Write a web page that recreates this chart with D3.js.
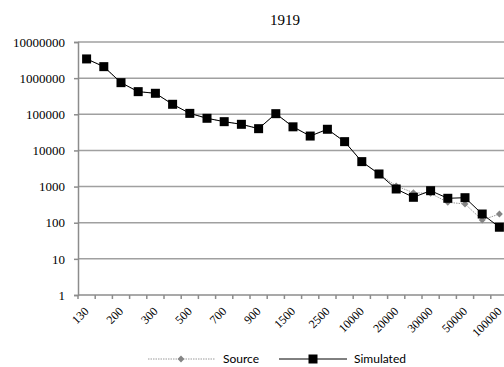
<!DOCTYPE html>
<html>
<head>
<meta charset="utf-8">
<script src="https://cdn.jsdelivr.net/npm/d3@7"></script>
<style>
  html, body { margin: 0; padding: 0; background: #fff; }
  svg { display: block; }
</style>
</head>
<body>
<svg id="chart" width="504" height="367"></svg>
<script>
// Size classes (category axis) and counts per class, log scale
const categories = ["130","150","200","250","300","400","500","600","700","800","900","1000",
  "1500","2000","2500","5000","10000","15000","20000","25000","30000","40000","50000","75000","100000"];
const sourceValues = [3400000, 2080000, 750000, 423000, 381000, 189000, 106000, 77500, 62500, 52800,
  40000, 104000, 45000, 25000, 38500, 17500, 4900, 2230, 1040, 677, 650, 367, 330, 119, 174];
const simulatedValues = [3400000, 2080000, 750000, 423000, 381000, 189000, 106000, 77500, 62500, 52800,
  40000, 104000, 45000, 25000, 38500, 17500, 4900, 2230, 857, 505, 769, 474, 492, 174, 75];
const yTickValues = [1, 10, 100, 1000, 10000, 100000, 1000000, 10000000];
const titleText = "1919";
const seriesNames = ["Source", "Simulated"];

const serif = "'Liberation Serif', 'Times New Roman', serif";
const svg = d3.select("#chart");
const plotLeft = 78, plotTop = 42, plotBottom = 295, step = 17.2;

const x = d3.scaleBand().domain(categories).range([plotLeft, plotLeft + step * categories.length]).padding(0);
const y = d3.scaleLog().domain([1, 1e7]).range([plotBottom, plotTop]);
const cx = d => x(d) + x.bandwidth() / 2;

// title
svg.append("text")
  .attr("x", 285).attr("y", 25)
  .attr("text-anchor", "middle")
  .attr("font-family", serif)
  .attr("font-size", 15)
  .text(titleText);

// horizontal gridlines
svg.append("g").selectAll("line")
  .data(yTickValues.filter(v => v > 1))
  .join("line")
  .attr("x1", plotLeft).attr("x2", 504)
  .attr("y1", d => y(d)).attr("y2", d => y(d))
  .attr("stroke", "#a0a0a0").attr("stroke-width", 1.5);

// y axis
const yAxis = d3.axisLeft(y).tickValues(yTickValues).tickFormat(d3.format("d")).tickSize(4).tickPadding(9);
const gy = svg.append("g").attr("transform", `translate(${plotLeft},0)`).call(yAxis)
  .attr("font-family", serif).attr("font-size", 13);
gy.select(".domain").attr("stroke", "#8c8c8c").attr("stroke-width", 1.5);
gy.selectAll(".tick line").attr("stroke", "#8c8c8c").attr("stroke-width", 1.5);
gy.selectAll(".tick text").attr("fill", "#000");

// x axis line and category boundary ticks
svg.append("line")
  .attr("x1", plotLeft).attr("x2", 504).attr("y1", plotBottom).attr("y2", plotBottom)
  .attr("stroke", "#8c8c8c").attr("stroke-width", 1.5);
svg.append("g").selectAll("line")
  .data(categories)
  .join("line")
  .attr("x1", d => x(d)).attr("x2", d => x(d))
  .attr("y1", plotBottom).attr("y2", plotBottom + 4)
  .attr("stroke", "#8c8c8c").attr("stroke-width", 1.5);

// x labels, every other category
svg.append("g")
  .attr("font-family", serif).attr("font-size", 12)
  .selectAll("text")
  .data(categories.filter((d, i) => i % 2 === 0))
  .join("text")
  .attr("transform", d => `translate(${cx(d)},${plotBottom + 14}) rotate(-45)`)
  .attr("text-anchor", "end")
  .attr("dy", "0.35em")
  .text(d => d);

const line = d3.line().x((d, i) => cx(categories[i])).y(d => y(d));

// Source series: dotted grey line with diamonds
svg.append("path")
  .datum(sourceValues)
  .attr("d", line)
  .attr("fill", "none")
  .attr("stroke", "#9a9a9a")
  .attr("stroke-width", 1)
  .attr("stroke-dasharray", "1.5,1");
const diamond = d3.symbol().type(d3.symbolDiamond2).size(30);
svg.append("g").selectAll("path")
  .data(sourceValues)
  .join("path")
  .attr("transform", (d, i) => `translate(${cx(categories[i])},${y(d)})`)
  .attr("d", diamond)
  .attr("fill", "#858585");

// Simulated series: black line with squares
svg.append("path")
  .datum(simulatedValues)
  .attr("d", line)
  .attr("fill", "none")
  .attr("stroke", "#000")
  .attr("stroke-width", 1);
svg.append("g").selectAll("rect")
  .data(simulatedValues)
  .join("rect")
  .attr("x", (d, i) => cx(categories[i]) - 4.5)
  .attr("y", d => y(d) - 4.5)
  .attr("width", 9).attr("height", 9)
  .attr("fill", "#000");

// legend
const ly = 359;
const lg = svg.append("g").attr("font-family", "Lato, sans-serif").attr("font-size", 12);
lg.append("line").attr("x1", 148).attr("x2", 215).attr("y1", ly).attr("y2", ly)
  .attr("stroke", "#9a9a9a").attr("stroke-width", 1).attr("stroke-dasharray", "1.5,1");
lg.append("path").attr("transform", `translate(181,${ly})`).attr("d", diamond).attr("fill", "#858585");
lg.append("text").attr("x", 223).attr("y", ly + 4).text(seriesNames[0]);
lg.append("line").attr("x1", 279).attr("x2", 347).attr("y1", ly).attr("y2", ly)
  .attr("stroke", "#000").attr("stroke-width", 1);
lg.append("rect").attr("x", 313 - 4.5).attr("y", ly - 4.5).attr("width", 9).attr("height", 9).attr("fill", "#000");
lg.append("text").attr("x", 354).attr("y", ly + 4).text(seriesNames[1]);
</script>
</body>
</html>
